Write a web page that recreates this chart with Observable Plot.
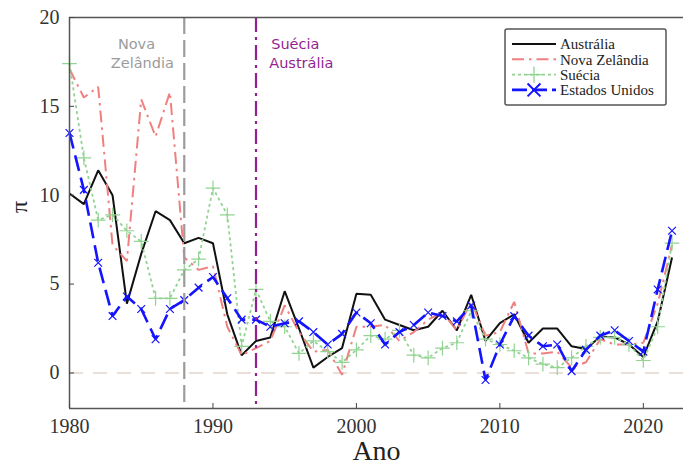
<!DOCTYPE html>
<html>
<head>
<meta charset="utf-8">
<script src="https://cdn.jsdelivr.net/npm/d3@7"></script>
<script src="https://cdn.jsdelivr.net/npm/@observablehq/plot@0.6"></script>
<style>
  html, body { margin: 0; padding: 0; background: white; }
  #chart { width: 683px; height: 467px; position: relative; }
</style>
</head>
<body>
<div id="chart"></div>
<script>
// ---- Data ----
const years = [1980,1981,1982,1983,1984,1985,1986,1987,1988,1989,
               1990,1991,1992,1993,1994,1995,1996,1997,1998,1999,
               2000,2001,2002,2003,2004,2005,2006,2007,2008,2009,
               2010,2011,2012,2013,2014,2015,2016,2017,2018,2019,
               2020,2021,2022];
const australia = [10.1,9.5,11.4,10.0,3.9,6.7,9.1,8.6,7.3,7.6,
                   7.3,3.3,1.0,1.8,2.0,4.6,2.5,0.3,0.9,1.4,
                   4.45,4.4,3.0,2.7,2.4,2.6,3.5,2.4,4.4,1.8,
                   2.8,3.3,1.7,2.5,2.5,1.5,1.35,2.05,2.0,1.6,
                   0.9,2.9,6.5];
const novaZelandia = [17.1,15.5,16.1,7.2,6.3,15.4,13.3,15.8,6.5,5.8,
                      6.0,2.6,1.0,1.4,1.8,3.8,2.3,1.2,1.3,-0.1,
                      2.6,2.6,2.7,1.8,2.3,3.0,3.4,2.4,4.0,2.1,
                      2.3,4.0,1.1,1.1,1.2,0.3,0.6,1.9,1.6,1.6,
                      1.7,3.9,7.2];
const suecia = [17.4,12.1,8.6,8.9,8.0,7.4,4.2,4.2,5.8,6.4,
                10.4,8.9,1.5,4.7,2.9,2.6,1.1,1.8,1.2,0.6,
                1.3,2.1,1.9,2.4,1.0,0.85,1.4,1.7,3.5,1.9,
                1.6,1.25,0.85,0.5,0.3,0.85,1.5,2.0,2.0,1.6,
                0.7,2.6,7.3];
const estadosUnidos = [13.5,10.3,6.2,3.2,4.3,3.6,1.9,3.6,4.1,4.8,
                       5.4,4.2,3.0,3.0,2.6,2.8,2.9,2.3,1.6,2.2,
                       3.4,2.8,1.6,2.3,2.7,3.4,3.2,2.9,3.8,-0.4,
                       1.6,3.2,2.1,1.5,1.6,0.1,1.3,2.1,2.4,1.8,
                       1.2,4.7,8.0];
const seriesNames = ["Austrália", "Nova Zelândia", "Suécia", "Estados Unidos"];
const xTicks = [1980, 1990, 2000, 2010, 2020];
const yTicks = [0, 5, 10, 15, 20];
// regime-change annotations
const eventYears = [1988, 1993];
const eventLabels = [
  {year: 1984.67, v: 18.5, text: "Nova", group: 0},
  {year: 1985.08, v: 17.42, text: "Zelândia", group: 0},
  {year: 1995.74, v: 18.5, text: "Suécia", group: 1},
  {year: 1996.16, v: 17.42, text: "Austrália", group: 1}
];

// ---- Styles ----
const styles = [
  {color: "#111111", width: 2, dash: null, symbol: null},
  {color: "#f08080", width: 2, dash: "12,5,2.5,5", symbol: null},
  {color: "#92d392", width: 1.8, dash: "3,3", symbol: "plus"},
  {color: "#1414ff", width: 2.6, dash: "16,7", symbol: "times"}
];
const eventColors = ["#9b9b9b", "#931f93"];

const allSeries = [australia, novaZelandia, suecia, estadosUnidos];
const rows = allSeries.map(vals => years.map((y, i) => ({year: y, value: vals[i]})));

const lineMarks = [];
allSeries.forEach((vals, k) => {
  const s = styles[k];
  lineMarks.push(Plot.line(rows[k], {
    x: "year", y: "value", stroke: s.color, strokeWidth: s.width,
    strokeDasharray: s.dash, strokeLinejoin: "miter", strokeLinecap: "butt"
  }));
  if (s.symbol) {
    lineMarks.push(Plot.dot(rows[k], {
      x: "year", y: "value", symbol: s.symbol, stroke: s.color,
      r: s.symbol === "plus" ? 4.8 : 3.6, strokeWidth: 1.2
    }));
  }
});

const plot = Plot.plot({
  width: 683,
  height: 467,
  marginLeft: 69,
  marginRight: 0,
  marginTop: 17,
  marginBottom: 59,
  x: {domain: [1980, 2022.8]},
  y: {domain: [-2, 20]},
  style: {fontFamily: "'Liberation Serif', 'DejaVu Serif', serif", fontSize: "20px", color: "#333", background: "white"},
  marks: [
    Plot.ruleY([0], {stroke: "#eadfd6", strokeWidth: 2, strokeDasharray: "14,10"}),
    ...lineMarks,
    Plot.ruleX([eventYears[0]], {stroke: eventColors[0], strokeWidth: 2.2, strokeDasharray: "17,6"}),
    Plot.ruleX([eventYears[1]], {stroke: eventColors[1], strokeWidth: 2.2, strokeDasharray: "15,5,3,5"}),
    Plot.text(eventLabels, {
      x: "year", y: "v", text: "text",
      fill: d => eventColors[d.group],
      fontFamily: "'DejaVu Sans', sans-serif", fontSize: 14.5
    }),
    // frame lines (left, bottom, top)
    Plot.ruleX([1980], {stroke: "#555", strokeWidth: 1.5}),
    Plot.ruleY([-2, 20], {stroke: "#555", strokeWidth: 1.5}),
    Plot.axisX({ticks: xTicks, tickFormat: d => String(d), tickSize: -5, tickPadding: 15, label: null, stroke: "#444", fontSize: 20}),
    Plot.axisY({ticks: yTicks, tickSize: -5, tickPadding: 15, label: null, stroke: "#444", fontSize: 20}),
    Plot.text(["Ano"], {frameAnchor: "bottom", dy: 43, lineAnchor: "middle", fontSize: 28, fill: "#222"}),
    Plot.text(["π"], {frameAnchor: "left", dx: -50, rotate: -90, fontSize: 24, fill: "#222"})
  ]
});

document.getElementById("chart").appendChild(plot);

// ---- Legend (inside the plot area, upper right) ----
const svg = d3.select(plot);
const lg = svg.append("g").attr("transform", "translate(505,29)").attr("text-anchor", "start");
lg.append("rect").attr("x", 0).attr("y", 0).attr("width", 161).attr("height", 76)
  .attr("rx", 2).attr("fill", "white").attr("stroke", "#555").attr("stroke-width", 1.5);
seriesNames.forEach((name, k) => {
  const s = styles[k];
  const yy = 15 + k * 15.3;
  lg.append("line").attr("x1", 7).attr("x2", 51).attr("y1", yy).attr("y2", yy)
    .attr("stroke", s.color).attr("stroke-width", s.width)
    .attr("stroke-dasharray", s.symbol === "times" ? "15,5" : s.dash);
  if (s.symbol) {
    const sym = s.symbol === "plus" ? d3.symbolPlus : d3.symbolTimes;
    lg.append("path").attr("d", d3.symbol(sym, s.symbol === "plus" ? 90 : 110)())
      .attr("transform", `translate(29,${yy})`)
      .attr("fill", "none").attr("stroke", s.color).attr("stroke-width", s.symbol === "plus" ? 1.3 : 2);
  }
  lg.append("text").attr("x", 55).attr("y", yy).attr("dy", "0.35em")
    .attr("text-anchor", "start")
    .attr("font-family", "'Liberation Serif', serif").attr("font-size", 15)
    .attr("fill", "#222").text(name);
});
</script>
</body>
</html>
